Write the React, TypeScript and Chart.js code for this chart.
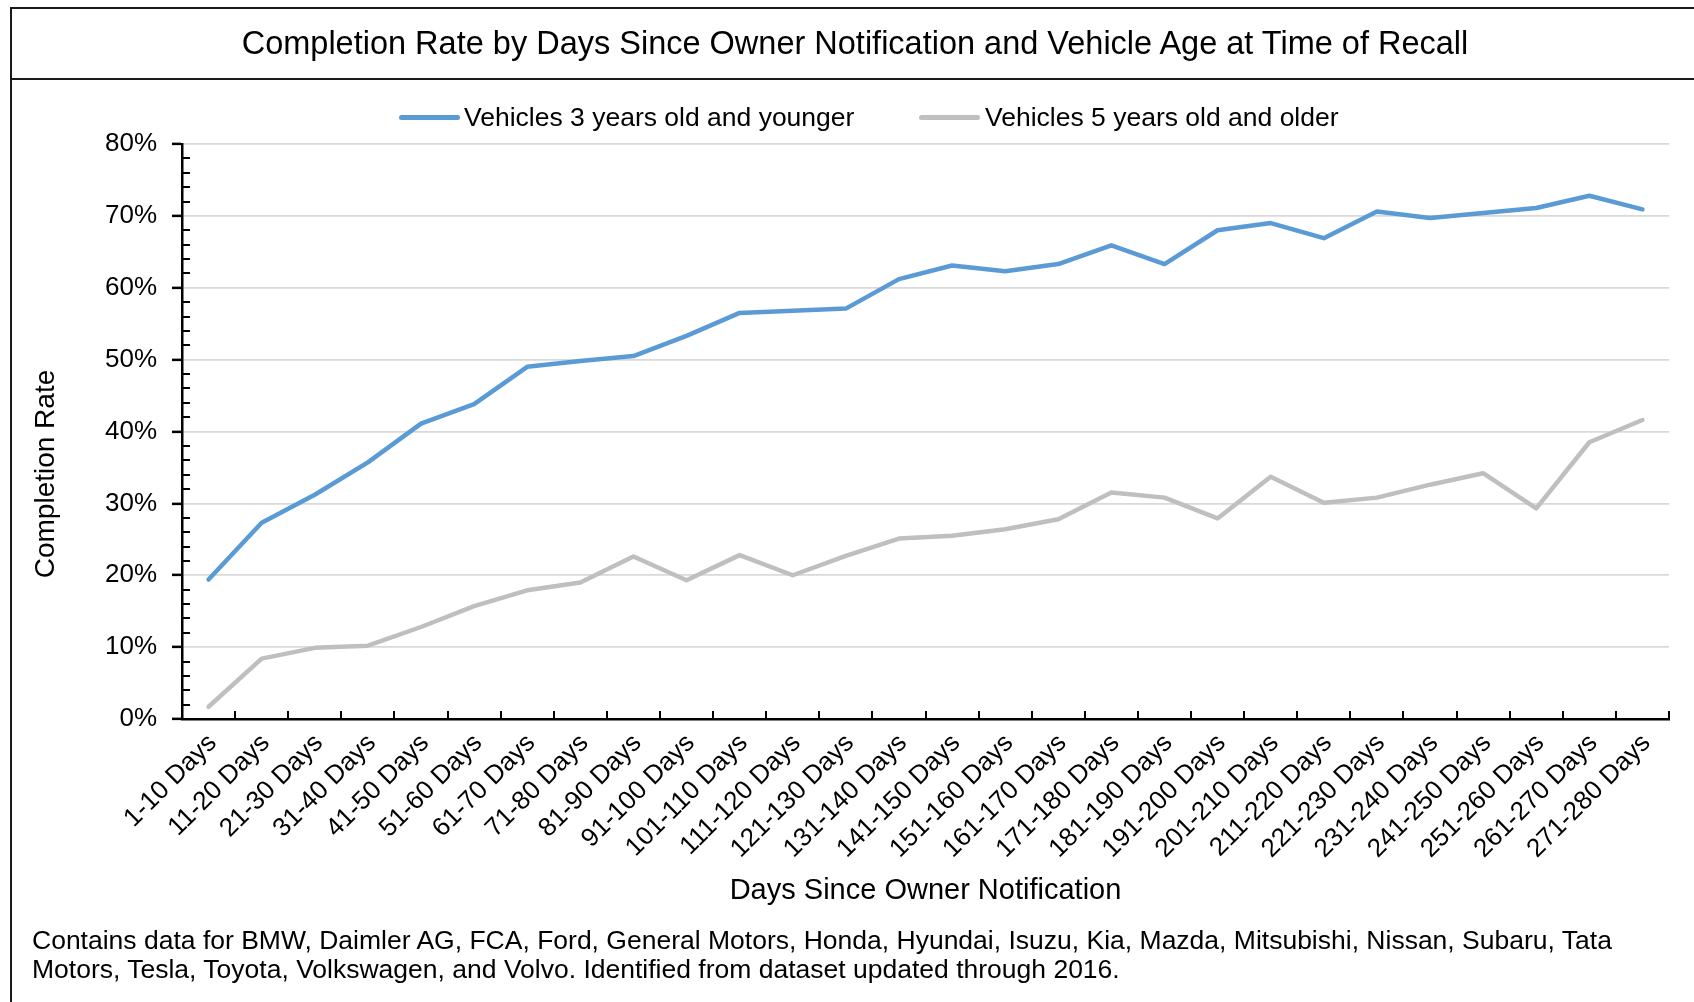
import React, { useEffect, useRef } from "react";
import { Chart, registerables } from "chart.js";

Chart.register(...registerables);

const chartTitle =
  "Completion Rate by Days Since Owner Notification and Vehicle Age at Time of Recall";
const xAxisTitle = "Days Since Owner Notification";
const yAxisTitle = "Completion Rate";
const footnoteLines = [
  "Contains data for BMW, Daimler AG, FCA, Ford, General Motors, Honda, Hyundai, Isuzu, Kia, Mazda, Mitsubishi, Nissan, Subaru, Tata",
  "Motors, Tesla, Toyota, Volkswagen, and Volvo. Identified from dataset updated through 2016.",
];

const categories = [
  "1-10 Days",
  "11-20 Days",
  "21-30 Days",
  "31-40 Days",
  "41-50 Days",
  "51-60 Days",
  "61-70 Days",
  "71-80 Days",
  "81-90 Days",
  "91-100 Days",
  "101-110 Days",
  "111-120 Days",
  "121-130 Days",
  "131-140 Days",
  "141-150 Days",
  "151-160 Days",
  "161-170 Days",
  "171-180 Days",
  "181-190 Days",
  "191-200 Days",
  "201-210 Days",
  "211-220 Days",
  "221-230 Days",
  "231-240 Days",
  "241-250 Days",
  "251-260 Days",
  "261-270 Days",
  "271-280 Days",
];

const seriesNames = [
  "Vehicles 3 years old and younger",
  "Vehicles 5 years old and older",
];

const youngerRates = [
  19.4, 27.3, 31.2, 35.7, 41.1, 43.8, 49.0, 49.8, 50.5, 53.3, 56.5, 56.8, 57.1,
  61.2, 63.1, 62.3, 63.3, 65.9, 63.3, 68.0, 69.0, 66.9, 70.6, 69.7, 70.4, 71.1,
  72.8, 70.9,
];

const olderRates = [
  1.7, 8.4, 9.9, 10.2, 12.8, 15.7, 17.9, 19.0, 22.6, 19.3, 22.8, 20.0, 22.7,
  25.1, 25.5, 26.4, 27.8, 31.5, 30.8, 27.9, 33.7, 30.1, 30.8, 32.6, 34.2, 29.3,
  38.5, 41.6,
];

const seriesColors = ["#5B9BD5", "#BFBFBF"];

const yMin = 0;
const yMax = 80;
const yMajorStep = 10;
const yMinorStep = 2;

const FONT = "'Liberation Sans', Arial, Helvetica, sans-serif";
const W = 1694;
const H = 1002;

const innerTicksPlugin = {
  id: "innerTicks",
  afterDraw(chart: any) {
    const { ctx, chartArea } = chart;
    const xs = chart.scales.x;
    const ys = chart.scales.y;
    ctx.save();
    ctx.strokeStyle = "#000";
    ctx.lineWidth = 2;
    ctx.beginPath();
    for (let v = yMin + yMinorStep; v < yMax; v += yMinorStep) {
      if (v % yMajorStep === 0) continue;
      const y = Math.round(ys.getPixelForValue(v));
      ctx.moveTo(chartArea.left, y);
      ctx.lineTo(chartArea.left + 8, y);
    }
    for (let i = 0; i <= categories.length; i++) {
      const x = Math.round(xs.getPixelForValue(i - 0.5));
      ctx.moveTo(x, chartArea.bottom);
      ctx.lineTo(x, chartArea.bottom - 8);
    }
    ctx.stroke();
    ctx.restore();
  },
};

export default function App() {
  const canvasRef = useRef<HTMLCanvasElement | null>(null);

  useEffect(() => {
    if (!canvasRef.current) return;
    const chart = new Chart(canvasRef.current, {
      type: "line",
      data: {
        labels: categories,
        datasets: [
          {
            label: seriesNames[0],
            data: youngerRates,
            borderColor: seriesColors[0],
            backgroundColor: seriesColors[0],
            borderWidth: 4.5,
            pointRadius: 0,
            borderCapStyle: "round",
            borderJoinStyle: "round",
            tension: 0,
          },
          {
            label: seriesNames[1],
            data: olderRates,
            borderColor: seriesColors[1],
            backgroundColor: seriesColors[1],
            borderWidth: 4.5,
            pointRadius: 0,
            borderCapStyle: "round",
            borderJoinStyle: "round",
            tension: 0,
          },
        ],
      },
      options: {
        responsive: false,
        animation: false,
        devicePixelRatio: 1,
        layout: {
          padding: { top: 144, left: 0, right: 25, bottom: 93.6 },
        },
        plugins: {
          legend: { display: false },
          title: { display: false },
          tooltip: { enabled: false },
        },
        scales: {
          x: {
            type: "category",
            offset: true,
            grid: {
              display: true,
              drawOnChartArea: false,
              drawTicks: false,
              offset: true,
            },
            border: { display: true, color: "#000", width: 2.5 },
            ticks: {
              autoSkip: false,
              maxRotation: 45,
              minRotation: 45,
              color: "#000",
              padding: 9,
              labelOffset: 4,
              font: { family: FONT, size: 26 },
            },
            title: {
              display: true,
              text: xAxisTitle,
              color: "#000",
              padding: 0,
              font: { family: FONT, size: 29 },
            },
            afterFit: (s: any) => {
              s.height = 189.4;
            },
          },
          y: {
            min: yMin,
            max: yMax,
            ticks: {
              stepSize: yMajorStep,
              color: "#000",
              padding: 15,
              font: { family: FONT, size: 26 },
              callback: (v: any) => v + "%",
            },
            grid: {
              color: (c: any) =>
                c.tick && c.tick.value === 0 ? "rgba(0,0,0,0)" : "#D9D9D9",
              lineWidth: 1.75,
              drawTicks: true,
              tickLength: 10,
              tickColor: "#000",
              tickWidth: 2.5,
            },
            border: { display: true, color: "#000", width: 2.5 },
            afterFit: (s: any) => {
              s.width = 182;
            },
          },
        },
      },
      plugins: [innerTicksPlugin],
    });
    return () => chart.destroy();
  }, []);

  const legendItems = [
    { name: seriesNames[0], color: seriesColors[0], lineX: 399, textX: 464 },
    { name: seriesNames[1], color: seriesColors[1], lineX: 919, textX: 985 },
  ];

  return (
    <div
      style={{
        position: "absolute",
        left: 0,
        top: 0,
        width: W,
        height: H,
        overflow: "hidden",
        background: "#fff",
        fontFamily: FONT,
        color: "#000",
      }}
    >
      <canvas
        ref={canvasRef}
        width={W}
        height={H}
        style={{ position: "absolute", left: 0, top: 0, width: W, height: H }}
      />
      {/* outer frame */}
      <div
        style={{
          position: "absolute",
          left: 10,
          top: 7,
          width: 1690,
          height: 1100,
          border: "2px solid #1a1a1a",
          boxSizing: "border-box",
          pointerEvents: "none",
        }}
      />
      {/* title box */}
      <div
        style={{
          position: "absolute",
          left: 10,
          top: 7,
          width: 1690,
          height: 73,
          borderBottom: "2px solid #1a1a1a",
          boxSizing: "border-box",
          display: "flex",
          alignItems: "center",
          justifyContent: "center",
          fontSize: 32.5,
          whiteSpace: "nowrap",
          paddingTop: 2,
        }}
      >
        {chartTitle}
      </div>
      {/* legend */}
      {legendItems.map((it) => (
        <React.Fragment key={it.name}>
          <div
            style={{
              position: "absolute",
              left: it.lineX,
              top: 117 - 2.5,
              width: 61,
              height: 5,
              borderRadius: 2.5,
              background: it.color,
            }}
          />
          <div
            style={{
              position: "absolute",
              left: it.textX,
              top: 117 - 16,
              height: 32,
              lineHeight: "32px",
              fontSize: 26.5,
              whiteSpace: "nowrap",
            }}
          >
            {it.name}
          </div>
        </React.Fragment>
      ))}
      {/* y axis title */}
      <div
        style={{
          position: "absolute",
          left: 45 - 150,
          top: 474 - 17,
          width: 300,
          height: 34,
          lineHeight: "34px",
          textAlign: "center",
          fontSize: 28,
          whiteSpace: "nowrap",
          transform: "rotate(-90deg)",
          transformOrigin: "50% 50%",
        }}
      >
        {yAxisTitle}
      </div>
      {/* footnote */}
      {footnoteLines.map((line, i) => (
        <div
          key={i}
          style={{
            position: "absolute",
            left: 32,
            top: 940 - 15 + i * 29,
            height: 30,
            lineHeight: "30px",
            fontSize: 26.5,
            whiteSpace: "nowrap",
          }}
        >
          {line}
        </div>
      ))}
    </div>
  );
}
